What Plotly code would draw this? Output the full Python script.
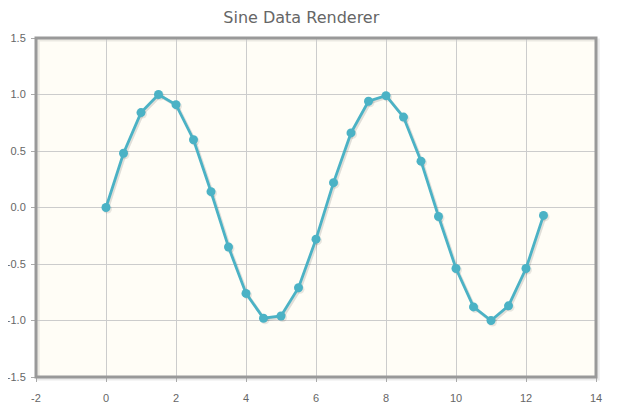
import plotly.graph_objects as go

x_vals = [0, 0.5, 1, 1.5, 2, 2.5, 3, 3.5, 4, 4.5, 5, 5.5, 6, 6.5, 7, 7.5, 8, 8.5, 9, 9.5, 10, 10.5, 11, 11.5, 12, 12.5]
y_vals = [0.0, 0.48, 0.84, 1.0, 0.91, 0.60, 0.14, -0.35, -0.76, -0.98, -0.96, -0.71, -0.28, 0.22, 0.66, 0.94,
          0.99, 0.80, 0.41, -0.08, -0.54, -0.88, -1.0, -0.87, -0.54, -0.07]
x_ticks = [-2, 0, 2, 4, 6, 8, 10, 12, 14]
x_tick_text = ["-2", "0", "2", "4", "6", "8", "10", "12", "14"]
y_ticks = [-1.5, -1.0, -0.5, 0.0, 0.5, 1.0, 1.5]
y_tick_text = ["-1.5", "-1.0", "-0.5", "0.0", "0.5", "1.0", "1.5"]

# page body has an 8px margin, so the figure is sized/offset accordingly
W, H = 629, 403
ml, mr, mt, mb = 28, 41, 30, 34
pw, ph = W - ml - mr, H - mt - mb
xr = [-2, 14]
yr = [-1.5, 1.5]
dx = 2.0 * (xr[1] - xr[0]) / pw
dy = 2.0 * (yr[1] - yr[0]) / ph

fig = go.Figure()
# shadow (offset axes)
fig.add_trace(go.Scatter(x=x_vals, y=y_vals, mode="lines+markers", xaxis="x2", yaxis="y2",
                         line=dict(color="rgba(0,0,0,0.12)", width=3),
                         marker=dict(size=9, color="rgba(0,0,0,0.09)"), hoverinfo="skip", showlegend=False))
# main series on top
fig.add_trace(go.Scatter(x=x_vals, y=y_vals, mode="lines+markers", xaxis="x3", yaxis="y3",
                         line=dict(color="#4bb2c5", width=2.8),
                         marker=dict(size=9, color="#4bb2c5"), showlegend=False))
# invisible trace on base axes so they render
fig.add_trace(go.Scatter(x=[None], y=[None], showlegend=False, hoverinfo="skip"))

axis_font = dict(family="Liberation Sans", size=11, color="#666666")
fig.update_layout(
    width=W, height=H,
    margin=dict(l=ml, r=mr, t=mt, b=mb, autoexpand=False),
    paper_bgcolor="white", plot_bgcolor="#fffdf6",
    title=dict(text="Sine Data Renderer", x=298 / W, xanchor="center", xref="paper", y=1 - 9 / H, yanchor="middle",
               font=dict(family="DejaVu Sans", size=16, color="#666666")),
    xaxis=dict(range=xr, tickvals=x_ticks, ticktext=x_tick_text, showgrid=True, gridcolor="#cccccc", gridwidth=1,
               zeroline=False, ticks="outside", ticklen=4, tickcolor="#aaaaaa", tickfont=axis_font,
               ticklabelstandoff=7, showline=False, fixedrange=True, automargin=False),
    yaxis=dict(range=yr, tickvals=y_ticks, ticktext=y_tick_text, showgrid=True, gridcolor="#cccccc",
               gridwidth=1, zeroline=False, ticks="outside", ticklen=4, tickcolor="#aaaaaa",
               tickfont=axis_font, ticklabelstandoff=3, showline=False, fixedrange=True, automargin=False),
    xaxis2=dict(range=[xr[0] - dx * 0.75, xr[1] - dx * 0.75], overlaying="x", visible=False, fixedrange=True),
    yaxis2=dict(range=[yr[0] + dy * 0.75, yr[1] + dy * 0.75], overlaying="y", visible=False, fixedrange=True),
    xaxis3=dict(range=xr, overlaying="x", visible=False, fixedrange=True),
    yaxis3=dict(range=yr, overlaying="y", visible=False, fixedrange=True),
    shapes=[
        dict(type="rect", xref="paper", yref="paper", x0=0.004, y0=-0.006, x1=1.004, y1=0.994,
             line=dict(color="rgba(0,0,0,0.08)", width=3), layer="below"),
        dict(type="rect", xref="paper", yref="paper", x0=0, y0=0, x1=1, y1=1,
             line=dict(color="#999999", width=3), layer="above"),
    ],
)
fig.write_html("out.html")
